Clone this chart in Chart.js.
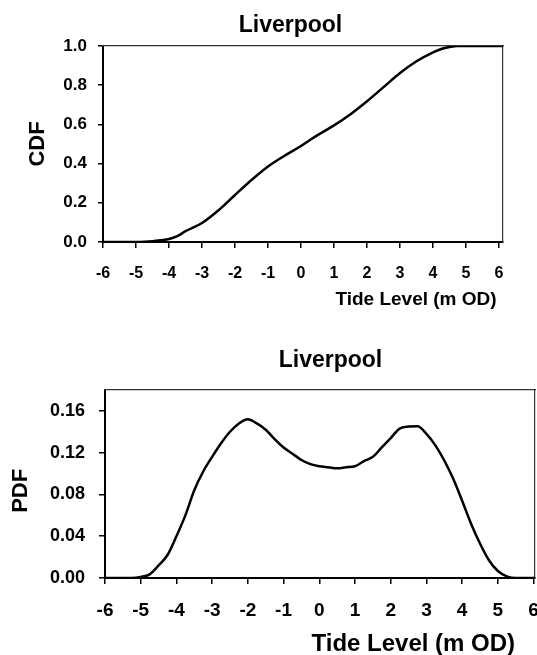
<!DOCTYPE html>
<html><head><meta charset="utf-8">
<script src="https://cdn.jsdelivr.net/npm/chart.js@4/dist/chart.umd.min.js"></script>
<style>
html,body{margin:0;padding:0;background:#fff;overflow:hidden;width:537px;height:655px;position:relative;}
canvas{position:absolute;left:0;}
#c1{top:0}
#c2{top:330px}
</style></head><body>
<canvas id="c1" width="537" height="330"></canvas>
<canvas id="c2" width="560" height="325"></canvas>
<script>
// ---- text ----
const chartTitle = "Liverpool";
const xAxisTitle = "Tide Level (m OD)";
const cdfAxisTitle = "CDF";
const pdfAxisTitle = "PDF";

// ---- tick labels ----
const xTickValues = [-6,-5,-4,-3,-2,-1,0,1,2,3,4,5,6];
const cdfTickValues = [0,0.2,0.4,0.6,0.8,1.0];
const pdfTickValues = [0,0.04,0.08,0.12,0.16];

// ---- CDF series ----
const cdfLevels = [-6,-5,-4.75,-4.5,-4.25,-4,-3.75,-3.5,-3,-2.5,-2,-1.5,-1,-0.5,0,0.5,1,1.5,2,2.5,3,3.5,4,4.25,4.5,4.75,6.12];
const cdfValues = [0,0,0.001,0.004,0.009,0.015,0.03,0.055,0.097,0.162,0.24,0.316,0.385,0.44,0.49,0.545,0.595,0.652,0.718,0.79,0.862,0.922,0.968,0.985,0.995,1.0,1.0];

// ---- PDF series ----
const pdfLevels = [-6,-5.25,-5,-4.75,-4.5,-4.25,-4,-3.75,-3.5,-3.25,-3,-2.75,-2.5,-2.25,-2,-1.75,-1.5,-1.25,-1,-0.75,-0.5,-0.25,0,0.25,0.5,0.75,1,1.25,1.5,1.75,2,2.25,2.5,2.75,3,3.25,3.5,3.75,4,4.25,4.5,4.75,5,5.25,5.5,6.06];
const pdfValues = [0,0,0.001,0.0035,0.012,0.022,0.04,0.06,0.084,0.102,0.116,0.129,0.14,0.148,0.152,0.148,0.142,0.133,0.125,0.119,0.113,0.109,0.107,0.106,0.105,0.106,0.107,0.112,0.116,0.125,0.134,0.143,0.145,0.1453,0.138,0.127,0.1125,0.095,0.074,0.052,0.033,0.017,0.0067,0.0016,0,0];

const FONT = '"Liberation Sans", Arial, Helvetica, sans-serif';

const textPlugin = {
  id: 'texts',
  afterDraw(chart, args, opts) {
    const ctx = chart.ctx;
    ctx.save();
    ctx.fillStyle = '#000';
    for (const t of opts.items) {
      ctx.font = 'bold ' + t.size + 'px ' + FONT;
      ctx.textAlign = 'center';
      ctx.textBaseline = 'alphabetic';
      ctx.save();
      ctx.translate(t.x, t.y);
      if (t.rot) ctx.rotate(t.rot);
      ctx.fillText(t.text, 0, 0);
      ctx.restore();
    }
    ctx.restore();
  }
};

function makeChart(id, o) {
  const data = o.levels.map((x, i) => ({x: x, y: o.values[i]}));
  const frameAxis = (pos) => ({
    type: 'linear', position: pos, display: true,
    min: pos === 'top' ? -6 : 0, max: pos === 'top' ? o.xmax : o.ymax,
    afterFit: s => { if (pos === 'top') s.height = 0; else s.width = 0; },
    grid: { display: false, drawTicks: false },
    ticks: { display: false },
    border: { display: true, color: '#333', width: 1.2 }
  });
  return new Chart(document.getElementById(id), {
    type: 'line',
    data: { datasets: [{ data: data, borderColor: '#000', borderWidth: 2.5, pointRadius: 0,
      cubicInterpolationMode: 'monotone', fill: false }] },
    options: {
      responsive: false, animation: false, devicePixelRatio: 1,
      layout: { padding: { left: 0, top: o.top, right: o.W - o.right, bottom: 0 } },
      plugins: { legend: { display: false }, tooltip: { enabled: false },
        texts: { items: o.texts } },
      scales: {
        x: {
          type: 'linear', min: -6, max: o.xmax,
          afterFit: s => { s.height = o.H - o.bottom; },
          afterBuildTicks: s => { s.ticks = xTickValues.map(v => ({value: v})); },
          grid: { drawOnChartArea: false, drawTicks: true, tickLength: 6, color: '#000', lineWidth: 1.5 },
          border: { display: true, color: '#000', width: 2 },
          ticks: { color: '#000', padding: o.xPad, maxRotation: 0, autoSkip: false,
            font: { family: FONT, size: o.xFont, weight: 'bold' },
            callback: v => String(v) }
        },
        y: {
          type: 'linear', min: 0, max: o.ymax,
          afterFit: s => { s.width = o.left; },
          afterBuildTicks: s => { s.ticks = o.yTicks.map(v => ({value: v})); },
          grid: { drawOnChartArea: false, drawTicks: true, tickLength: o.yTl, color: '#000', lineWidth: 1.5 },
          border: { display: true, color: '#000', width: 2 },
          ticks: { color: '#000', padding: o.yPad, autoSkip: false,
            font: { family: FONT, size: o.yFont, weight: 'bold' },
            callback: v => Number(v).toFixed(o.dec) }
        },
        xTop: frameAxis('top'),
        yRight: frameAxis('right')
      }
    },
    plugins: [textPlugin]
  });
}

makeChart('c1', {
  levels: cdfLevels, values: cdfValues, W: 537, H: 330,
  left: 103, right: 503, top: 46, bottom: 242, xmax: 6.12, ymax: 1.0,
  yTicks: cdfTickValues, dec: 1, xFont: 16, yFont: 17, xPad: 16, yPad: 11, yTl: 5,
  texts: [
    {text: chartTitle, size: 23, x: 290.5, y: 31.7},
    {text: cdfAxisTitle, size: 22, x: 44, y: 144, rot: -Math.PI/2},
    {text: xAxisTitle, size: 19, x: 416, y: 305}
  ]
});

makeChart('c2', {
  levels: pdfLevels, values: pdfValues, W: 560, H: 325,
  left: 105, right: 535, top: 60, bottom: 248, xmax: 6.04, ymax: 0.18,
  yTicks: pdfTickValues, dec: 2, xFont: 19, yFont: 18, xPad: 15, yPad: 14, yTl: 6,
  texts: [
    {text: chartTitle, size: 23, x: 330.5, y: 37.3},
    {text: pdfAxisTitle, size: 22, x: 27.3, y: 160.8, rot: -Math.PI/2},
    {text: xAxisTitle, size: 24, x: 413.3, y: 320.7}
  ]
});
</script>
</body></html>
